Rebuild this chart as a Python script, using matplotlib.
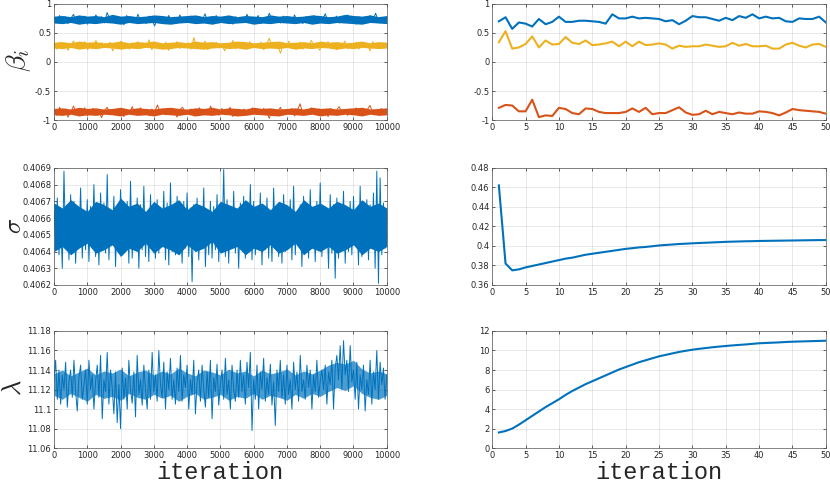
import numpy as np
import matplotlib
matplotlib.use("Agg")
import matplotlib.pyplot as plt

plt.rcParams['mathtext.fontset'] = 'cm'
plt.rcParams['font.family'] = ['DejaVu Sans']

# ---------------- data ----------------
beta1_trace = [0.76,0.68,0.80,0.70,0.78,0.66,0.75,0.82,0.69,0.77,0.72,0.79,0.65,0.76,0.71,0.81,0.70,0.78,0.67,0.85,
0.73,0.69,0.79,0.71,0.76,0.64,0.80,0.72,0.77,0.68,0.82,0.70,0.75,0.66,0.79,0.73,0.62,0.78,0.71,0.76,
0.69,0.80,0.72,0.77,0.67,0.81,0.70,0.75,0.68,0.79,0.73,0.66,0.78,0.71,0.83,0.69,0.76,0.72,0.80,0.67,
0.75,0.70,0.79,0.73,0.65,0.78,0.71,0.77,0.68,0.82,0.72,0.76,0.69,0.80,0.66,0.75,0.71,0.84,0.70,0.78,
0.73,0.67,0.79,0.72,0.76,0.69,0.81,0.71,0.75,0.66,0.78,0.73,0.70,0.80,0.68,0.77,0.72,0.83,0.69,0.76,
0.71,0.79,0.67,0.75,0.73,0.81,0.70,0.77,0.65,0.78,0.72,0.76,0.69,0.80,0.71,0.84,0.70,0.77,0.73,0.68]

beta2_trace = [0.30,0.22,0.34,0.25,0.32,0.20,0.29,0.36,0.24,0.31,0.27,0.35,0.21,0.30,0.26,0.37,0.23,0.33,0.28,0.25,
0.34,0.19,0.31,0.27,0.36,0.24,0.30,0.22,0.33,0.28,0.35,0.23,0.29,0.26,0.38,0.21,0.32,0.27,0.30,0.24,
0.34,0.20,0.31,0.28,0.35,0.23,0.30,0.26,0.33,0.22,0.42,0.25,0.31,0.28,0.36,0.21,0.29,0.27,0.34,0.24,
0.32,0.19,0.30,0.26,0.37,0.23,0.33,0.28,0.31,0.22,0.35,0.25,0.29,0.27,0.34,0.21,0.30,0.41,0.24,0.32,
0.28,0.15,0.33,0.26,0.36,0.23,0.30,0.27,0.34,0.22,0.31,0.25,0.37,0.28,0.32,0.20,0.30,0.26,0.35,0.24,
0.33,0.21,0.31,0.27,0.36,0.23,0.29,0.25,0.34,0.22,0.32,0.28,0.30,0.19,0.35,0.26,0.31,0.24,0.33,0.27]

beta3_trace = [-0.84,-0.92,-0.78,-0.88,-0.81,-0.95,-0.86,-0.76,-0.90,-0.83,-0.87,-0.79,-0.93,-0.85,-0.80,-0.89,-0.82,-0.96,-0.84,-0.78,
-0.88,-0.83,-0.91,-0.80,-0.86,-0.94,-0.82,-0.87,-0.77,-0.90,-0.84,-0.79,-0.89,-0.85,-0.92,-0.81,-0.86,-0.74,-0.88,-0.83,
-0.91,-0.80,-0.87,-0.84,-0.95,-0.82,-0.78,-0.89,-0.85,-0.81,-0.93,-0.86,-0.79,-0.88,-0.83,-0.90,-0.76,-0.87,-0.84,-0.92,
-0.80,-0.86,-0.89,-0.78,-0.94,-0.85,-0.82,-0.88,-0.81,-0.91,-0.84,-0.79,-0.87,-0.83,-0.90,-0.80,-0.86,-0.97,-0.82,-0.88,
-0.85,-0.78,-0.91,-0.83,-0.87,-0.80,-0.93,-0.84,-0.72,-0.89,-0.82,-0.86,-0.79,-0.90,-0.85,-0.81,-0.88,-0.84,-0.94,-0.80,
-0.87,-0.83,-0.77,-0.89,-0.85,-0.92,-0.81,-0.86,-0.79,-0.88,-0.84,-0.91,-0.82,-0.75,-0.87,-0.85,-0.90,-0.80,-0.86,-0.83]

# dense core bands of the long traces (lower / upper edge, sampled evenly over the run)
beta1_core_lo = [0.67,0.66,0.68,0.65,0.67,0.66,0.68,0.67,0.65,0.68,0.66,0.67,0.68,0.66,0.65,0.67,0.68,0.66,0.67,0.65,0.68,
0.66,0.67,0.68,0.65,0.67,0.66,0.68,0.67,0.66,0.68,0.65,0.67,0.66,0.68,0.67,0.66,0.65,0.68,0.67,0.66]
beta1_core_hi = [0.79,0.80,0.78,0.81,0.79,0.80,0.78,0.82,0.79,0.80,0.78,0.79,0.81,0.80,0.78,0.79,0.80,0.81,0.78,0.80,0.79,
0.81,0.78,0.80,0.79,0.78,0.81,0.79,0.80,0.78,0.79,0.81,0.80,0.78,0.79,0.82,0.80,0.79,0.81,0.78,0.80]
beta2_core_lo = [0.24,0.23,0.25,0.22,0.24,0.23,0.25,0.24,0.22,0.24,0.23,0.25,0.24,0.22,0.23,0.25,0.24,0.23,0.22,0.24,0.25,
0.23,0.24,0.22,0.25,0.23,0.24,0.23,0.25,0.22,0.24,0.23,0.25,0.24,0.22,0.24,0.23,0.25,0.24,0.23,0.24]
beta2_core_hi = [0.34,0.35,0.33,0.36,0.34,0.35,0.33,0.34,0.36,0.33,0.35,0.34,0.36,0.33,0.34,0.35,0.33,0.36,0.34,0.35,0.33,
0.34,0.36,0.35,0.33,0.34,0.35,0.36,0.33,0.34,0.35,0.33,0.36,0.34,0.35,0.33,0.34,0.36,0.33,0.35,0.34]
beta3_core_lo = [-0.91,-0.92,-0.90,-0.93,-0.91,-0.92,-0.90,-0.91,-0.93,-0.90,-0.92,-0.91,-0.93,-0.90,-0.91,-0.92,-0.90,-0.93,-0.91,-0.92,-0.90,
-0.91,-0.93,-0.92,-0.90,-0.91,-0.92,-0.93,-0.90,-0.91,-0.92,-0.90,-0.93,-0.91,-0.92,-0.90,-0.91,-0.93,-0.90,-0.92,-0.91]
beta3_core_hi = [-0.80,-0.79,-0.81,-0.78,-0.80,-0.79,-0.81,-0.80,-0.78,-0.81,-0.79,-0.80,-0.81,-0.79,-0.78,-0.80,-0.81,-0.79,-0.80,-0.78,-0.81,
-0.79,-0.80,-0.81,-0.78,-0.80,-0.79,-0.81,-0.80,-0.79,-0.81,-0.78,-0.80,-0.79,-0.81,-0.80,-0.79,-0.78,-0.81,-0.80,-0.79]

sigma_trace = [0.40668,0.40644,0.40672,0.40638,0.40660,0.40630,0.40688,0.40642,0.40666,0.40635,0.40674,0.40640,0.40670,0.40633,0.40662,0.40645,0.40678,0.40636,0.40664,0.40641,
0.40671,0.40634,0.40667,0.40643,0.40680,0.40637,0.40663,0.40632,0.40675,0.40646,0.40669,0.40639,0.40686,0.40635,0.40661,0.40644,0.40673,0.40631,0.40666,0.40640,
0.40677,0.40638,0.40665,0.40642,0.40670,0.40633,0.40682,0.40636,0.40664,0.40645,0.40672,0.40630,0.40668,0.40641,0.40679,0.40637,0.40662,0.40634,0.40674,0.40643,
0.40667,0.40636,0.40671,0.40639,0.40663,0.40647,0.40676,0.40635,0.40669,0.40632,0.40681,0.40640,0.40665,0.40638,0.40673,0.40644,0.40660,0.40633,0.40670,0.40642,
0.40675,0.40637,0.40666,0.40622,0.40668,0.40640,0.40672,0.40635,0.40664,0.40643,0.40678,0.40631,0.40661,0.40638,0.40670,0.40636,0.40667,0.40641,0.40674,0.40634,
0.40663,0.40645,0.40689,0.40637,0.40671,0.40633,0.40666,0.40642,0.40676,0.40639,0.40662,0.40630,0.40669,0.40644,0.40673,0.40636,0.40665,0.40640,0.40680,0.40635,
0.40670,0.40638,0.40664,0.40643,0.40675,0.40632,0.40667,0.40641,0.40672,0.40636,0.40663,0.40634,0.40678,0.40645,0.40661,0.40637,0.40669,0.40633,0.40674,0.40640,
0.40666,0.40642,0.40671,0.40635,0.40679,0.40638,0.40662,0.40644,0.40668,0.40631,0.40673,0.40639,0.40665,0.40636,0.40677,0.40643,0.40664,0.40634,0.40670,0.40641,
0.40681,0.40637,0.40667,0.40645,0.40663,0.40630,0.40674,0.40639,0.40668,0.40624,0.40672,0.40636,0.40661,0.40642,0.40676,0.40633,0.40665,0.40640,0.40670,0.40638,
0.40673,0.40644,0.40666,0.40632,0.40679,0.40637,0.40662,0.40641,0.40671,0.40635,0.40668,0.40643,0.40675,0.40630,0.40688,0.40621,0.40684,0.40638,0.40669,0.40642,
0.40660]
sigma_core_lo = [0.40640,0.40643,0.40638,0.40642,0.40645,0.40639,0.40641,0.40644,0.40637,0.40642,0.40640,0.40645,0.40639,0.40643,0.40641,0.40638,0.40644,0.40640,0.40642,0.40646,0.40639,
0.40641,0.40643,0.40638,0.40642,0.40640,0.40644,0.40639,0.40641,0.40645,0.40638,0.40642,0.40640,0.40643,0.40639,0.40641,0.40644,0.40638,0.40642,0.40640,0.40643]
sigma_core_hi = [0.40669,0.40666,0.40671,0.40667,0.40664,0.40670,0.40668,0.40665,0.40672,0.40667,0.40669,0.40664,0.40670,0.40666,0.40668,0.40671,0.40665,0.40669,0.40667,0.40664,0.40670,
0.40668,0.40666,0.40671,0.40667,0.40669,0.40665,0.40670,0.40668,0.40664,0.40671,0.40667,0.40669,0.40666,0.40670,0.40668,0.40665,0.40671,0.40667,0.40669,0.40666]

lambda_trace = [11.130,11.150,11.110,11.140,11.105,11.135,11.120,11.148,11.102,11.128,11.140,11.112,11.150,11.118,11.098,11.132,11.145,11.110,11.125,11.140,
11.105,11.150,11.120,11.135,11.100,11.128,11.145,11.112,11.155,11.090,11.130,11.118,11.158,11.105,11.140,11.122,11.095,11.138,11.086,11.125,
11.080,11.142,11.110,11.132,11.100,11.150,11.120,11.106,11.138,11.092,11.155,11.115,11.130,11.104,11.145,11.120,11.100,11.140,11.110,11.158,
11.118,11.135,11.108,11.160,11.125,11.112,11.148,11.100,11.138,11.120,11.152,11.110,11.130,11.105,11.142,11.118,11.155,11.108,11.135,11.122,
11.145,11.100,11.130,11.115,11.150,11.095,11.128,11.140,11.108,11.145,11.120,11.102,11.138,11.112,11.150,11.090,11.132,11.118,11.146,11.104,
11.125,11.140,11.110,11.152,11.115,11.130,11.100,11.145,11.120,11.108,11.140,11.112,11.150,11.118,11.135,11.105,11.148,11.122,11.158,11.078,
11.130,11.110,11.145,11.100,11.138,11.120,11.152,11.108,11.132,11.115,11.146,11.104,11.128,11.083,11.140,11.118,11.150,11.112,11.135,11.105,
11.145,11.115,11.130,11.100,11.148,11.120,11.138,11.108,11.155,11.118,11.130,11.110,11.145,11.122,11.140,11.100,11.135,11.118,11.150,11.112,
11.128,11.140,11.120,11.145,11.105,11.138,11.125,11.150,11.100,11.142,11.155,11.130,11.165,11.120,11.170,11.135,11.150,11.118,11.165,11.128,
11.140,11.110,11.148,11.100,11.135,11.120,11.145,11.098,11.130,11.115,11.150,11.105,11.138,11.120,11.160,11.110,11.148,11.125,11.142,11.110,
11.135]
lambda_core_lo = [11.114,11.110,11.116,11.112,11.108,11.115,11.111,11.113,11.109,11.116,11.112,11.110,11.115,11.111,11.114,11.108,11.113,11.116,11.110,11.112,11.115,
11.109,11.113,11.111,11.116,11.110,11.114,11.112,11.109,11.115,11.111,11.116,11.113,11.118,11.122,11.119,11.124,11.116,11.112,11.110,11.114]
lambda_core_hi = [11.136,11.140,11.134,11.138,11.142,11.135,11.139,11.137,11.141,11.134,11.138,11.140,11.135,11.139,11.136,11.142,11.137,11.134,11.140,11.138,11.135,
11.141,11.137,11.139,11.134,11.140,11.136,11.138,11.141,11.135,11.139,11.136,11.140,11.145,11.148,11.146,11.150,11.141,11.137,11.139,11.136]

beta1_first50 = [0.70,0.77,0.57,0.68,0.66,0.61,0.74,0.65,0.69,0.78,0.69,0.69,0.71,0.71,0.70,0.69,0.66,0.82,0.75,0.75,
0.78,0.75,0.76,0.75,0.74,0.70,0.72,0.65,0.71,0.79,0.77,0.77,0.74,0.71,0.76,0.72,0.79,0.76,0.82,0.75,
0.78,0.75,0.76,0.70,0.69,0.75,0.74,0.74,0.78,0.68]
beta2_first50 = [0.34,0.53,0.23,0.25,0.31,0.44,0.25,0.37,0.30,0.31,0.43,0.33,0.31,0.37,0.29,0.30,0.32,0.35,0.27,0.35,
0.27,0.35,0.29,0.30,0.32,0.30,0.23,0.28,0.26,0.27,0.27,0.30,0.28,0.26,0.27,0.33,0.28,0.31,0.27,0.27,
0.28,0.23,0.23,0.30,0.33,0.28,0.25,0.30,0.31,0.26]
beta3_first50 = [-0.79,-0.74,-0.75,-0.85,-0.85,-0.65,-0.95,-0.92,-0.93,-0.79,-0.81,-0.88,-0.90,-0.80,-0.81,-0.86,-0.88,-0.88,-0.88,-0.86,
-0.80,-0.86,-0.79,-0.90,-0.88,-0.88,-0.83,-0.78,-0.87,-0.91,-0.90,-0.84,-0.90,-0.86,-0.88,-0.90,-0.87,-0.89,-0.89,-0.85,
-0.86,-0.88,-0.92,-0.87,-0.81,-0.83,-0.84,-0.85,-0.86,-0.89]
sigma_first50 = [0.462,0.382,0.375,0.376,0.378,0.3795,0.381,0.3825,0.384,0.3855,0.387,0.388,0.3895,0.391,0.392,0.393,0.394,0.395,0.396,0.397,
0.3977,0.3985,0.399,0.3997,0.4005,0.401,0.4015,0.402,0.4023,0.4027,0.403,0.4033,0.4036,0.4039,0.4042,0.4044,0.4046,0.4048,0.4049,0.4051,
0.4052,0.4053,0.4054,0.4055,0.4056,0.4057,0.4058,0.4059,0.4060,0.4060]
lambda_first50 = [1.6,1.75,2.0,2.4,2.85,3.3,3.75,4.2,4.6,5.0,5.45,5.85,6.2,6.55,6.85,7.15,7.45,7.75,8.05,8.3,
8.55,8.8,9.0,9.2,9.4,9.55,9.7,9.85,9.97,10.08,10.17,10.25,10.33,10.4,10.46,10.52,10.57,10.62,10.68,10.74,
10.77,10.8,10.83,10.87,10.9,10.92,10.94,10.96,10.98,11.0]

beta_ticks = [-1, -0.5, 0, 0.5, 1]
beta_ticklabels = ['-1', '-0.5', '0', '0.5', '1']
sigma_ticks = [0.4062, 0.4063, 0.4064, 0.4065, 0.4066, 0.4067, 0.4068, 0.4069]
sigma_right_ticks = [0.36, 0.38, 0.40, 0.42, 0.44, 0.46, 0.48]
sigma_right_labels = ['0.36', '0.38', '0.4', '0.42', '0.44', '0.46', '0.48']
lambda_ticks = [11.06, 11.08, 11.10, 11.12, 11.14, 11.16, 11.18]
lambda_labels = ['11.06', '11.08', '11.1', '11.12', '11.14', '11.16', '11.18']
lambda_right_ticks = [0, 2, 4, 6, 8, 10, 12]
iter_ticks = list(range(0, 10001, 1000))
first_ticks = list(range(0, 51, 5))

# ---------------- style ----------------
C_BLUE = '#0072BD'
C_RED = '#D95319'
C_YEL = '#EDB120'
TXT = '#262626'

fig = plt.figure(figsize=(8.3, 4.86), dpi=100)

lx, lw = 0.065, 0.401
rx, rw = 0.593, 0.402
rows = [(0.753, 0.239), (0.4136, 0.241), (0.078, 0.241)]

def style(ax):
    ax.tick_params(direction='in', length=2.5, width=0.5, labelsize=6, colors=TXT, pad=2,
                   top=True, right=True)
    for s in ax.spines.values():
        s.set_linewidth(0.5)
        s.set_color('#555555')
    ax.grid(True, color='#000000', alpha=0.12, linewidth=0.5)
    ax.set_axisbelow(True)

axes = [[fig.add_axes([lx, b, lw, h]), fig.add_axes([rx, b, rw, h])] for b, h in rows]

x_long = np.linspace(1, 10000, len(beta1_trace))
x_sig = np.linspace(1, 10000, len(sigma_trace))
x_lam = np.linspace(1, 10000, len(lambda_trace))
x_core = np.linspace(1, 10000, len(sigma_core_lo))
x50 = np.arange(1, len(beta1_first50) + 1)

TRW = 0.7

# row 1
ax = axes[0][0]
for tr, lo, hi, c in [(beta1_trace, beta1_core_lo, beta1_core_hi, C_BLUE),
                      (beta3_trace, beta3_core_lo, beta3_core_hi, C_RED),
                      (beta2_trace, beta2_core_lo, beta2_core_hi, C_YEL)]:
    ax.fill_between(x_core, lo, hi, color=c, lw=0)
    ax.plot(x_long, tr, color=c, lw=TRW)
ax.set_ylim(-1, 1)
ax.set_yticks(beta_ticks)
ax.set_yticklabels(beta_ticklabels)

ax = axes[0][1]
ax.plot(x50, beta1_first50, color=C_BLUE, lw=1.5)
ax.plot(x50, beta3_first50, color=C_RED, lw=1.5)
ax.plot(x50, beta2_first50, color=C_YEL, lw=1.5)
ax.set_ylim(-1, 1)
ax.set_yticks(beta_ticks)
ax.set_yticklabels(beta_ticklabels)

# row 2
ax = axes[1][0]
ax.fill_between(x_core, sigma_core_lo, sigma_core_hi, color=C_BLUE, lw=0)
ax.plot(x_sig, sigma_trace, color=C_BLUE, lw=TRW)
ax.set_ylim(0.4062, 0.4069)
ax.set_yticks(sigma_ticks)
ax.set_yticklabels(['%.4f' % v for v in sigma_ticks])

ax = axes[1][1]
ax.plot(x50, sigma_first50, color=C_BLUE, lw=1.5)
ax.set_ylim(0.36, 0.48)
ax.set_yticks(sigma_right_ticks)
ax.set_yticklabels(sigma_right_labels)

# row 3
ax = axes[2][0]
ax.fill_between(x_core, lambda_core_lo, lambda_core_hi, color=C_BLUE, lw=0, alpha=0.7)
ax.plot(x_lam, lambda_trace, color=C_BLUE, lw=TRW)
ax.set_ylim(11.06, 11.18)
ax.set_yticks(lambda_ticks)
ax.set_yticklabels(lambda_labels)

ax = axes[2][1]
ax.plot(x50, lambda_first50, color=C_BLUE, lw=1.5)
ax.set_ylim(0, 12)
ax.set_yticks(lambda_right_ticks)

for r in range(3):
    axl, axr = axes[r]
    axl.set_xlim(0, 10000)
    axl.set_xticks(iter_ticks)
    axr.set_xlim(0, 50)
    axr.set_xticks(first_ticks)
    style(axl)
    style(axr)

# y labels (placed in figure pixels like the reference)
W, H = 830.0, 486.0
fig.text(19 / W, 1 - 60 / H, r'$\beta_i$', fontsize=20, rotation=90, ha='center', va='center', color=TXT)
fig.text(14 / W, 1 - 226 / H, r'$\sigma$', fontsize=18, rotation=90, ha='center', va='center', color=TXT)
fig.text(14 / W, 1 - 388 / H, r'$\lambda$', fontsize=19, rotation=90, ha='center', va='center', color=TXT)

for ax in axes[2]:
    ax.set_xlabel('iteration', fontsize=17, family=['Liberation Mono'], color=TXT, labelpad=1)

fig.savefig('out.png', dpi=100)
